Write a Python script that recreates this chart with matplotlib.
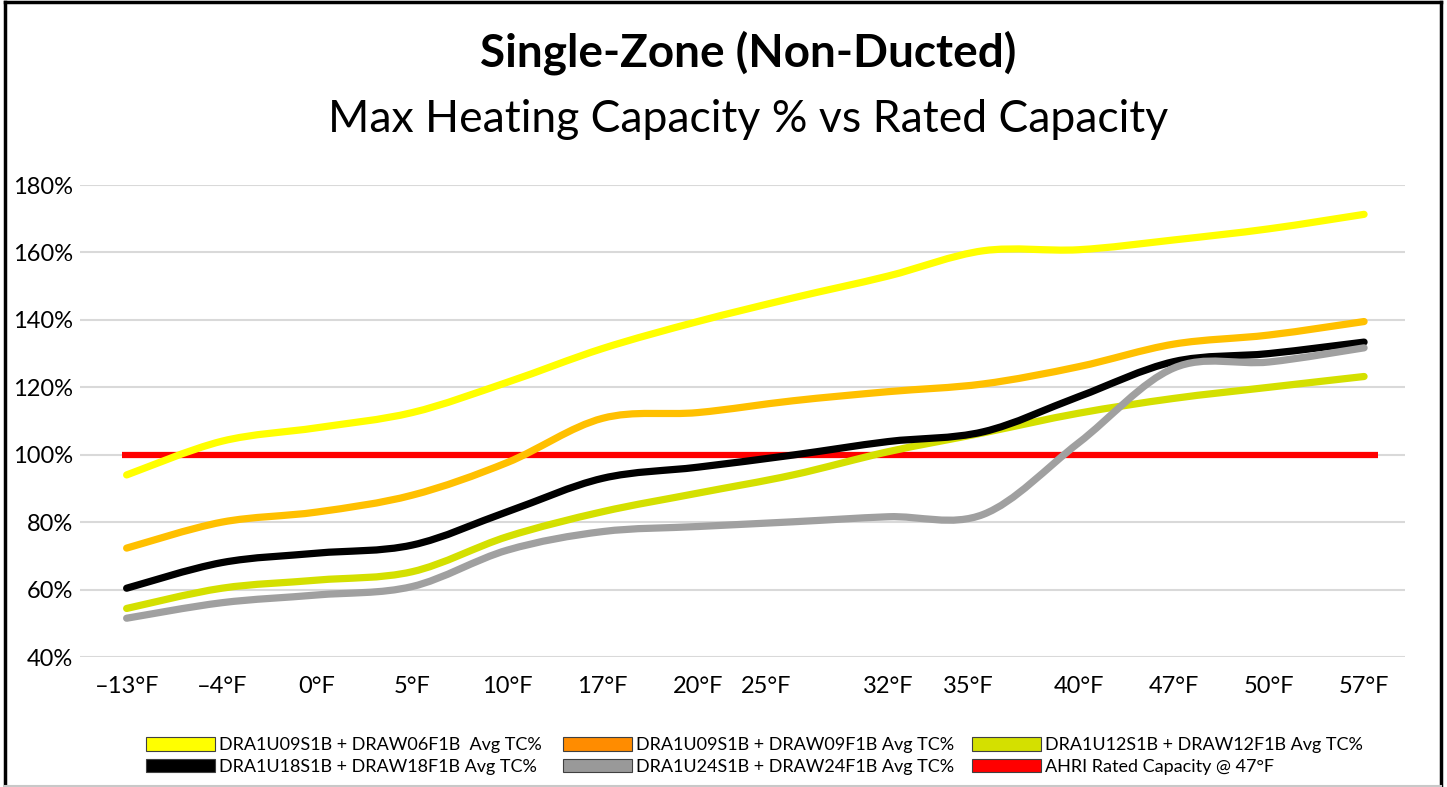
import matplotlib
matplotlib.use("Agg")
import matplotlib.pyplot as plt
from matplotlib.path import Path
from matplotlib.patches import PathPatch, Patch
from matplotlib.lines import Line2D
from matplotlib.transforms import ScaledTranslation

plt.rcParams['font.family'] = ['Lato', 'DejaVu Sans']

# outdoor temperature categories
temps = ["–13°F", "–4°F", "0°F", "5°F", "10°F", "17°F", "20°F", "25°F",
         "32°F", "35°F", "40°F", "47°F", "50°F", "57°F"]

# max heating capacity as % of rated capacity
u09_w06 = [94, 104, 108, 112.5, 121.5, 131.5, 139.5, 146.5, 153, 160.5, 160.8, 163.7, 167, 171.3]
u09_w09 = [72.3, 80, 83, 88, 97.7, 110.8, 112.5, 116, 118.7, 121, 126.1, 132.8, 135.5, 139.5]
u12_w12 = [54.4, 60.4, 62.8, 65.3, 75.7, 83.1, 88.6, 94, 100.9, 106.5, 112.3, 116.7, 120, 123.2]
u18_w18 = [60.4, 68, 70.8, 73.2, 83.1, 93, 96.3, 99.9, 103.9, 106.8, 117.2, 127.6, 130, 133.4]
u24_w24 = [51.5, 56.1, 58.4, 60.9, 71.7, 77.2, 78.7, 80.1, 81.6, 82.3, 103.5, 125.7, 127.5, 131.7]
ahri_rated = [100] * len(temps)

yticks = [40, 60, 80, 100, 120, 140, 160, 180]

series = [
    ("DRA1U09S1B + DRAW06F1B  Avg TC%", u09_w06, "#FFFF00", "#FFFF00"),
    ("DRA1U09S1B + DRAW09F1B Avg TC%", u09_w09, "#FFC000", "#FF8C00"),
    ("DRA1U12S1B + DRAW12F1B Avg TC%", u12_w12, "#D4E000", "#D4E000"),
    ("DRA1U18S1B + DRAW18F1B Avg TC%", u18_w18, "#000000", "#000000"),
    ("DRA1U24S1B + DRAW24F1B Avg TC%", u24_w24, "#A0A0A0", "#999999"),
]


def smooth_path(xs, ys):
    # Excel style smoothed line: cubic bezier through every point
    verts = [(xs[0], ys[0])]
    codes = [Path.MOVETO]
    n = len(xs)
    for i in range(n - 1):
        x0, y0 = (xs[i - 1], ys[i - 1]) if i > 0 else (xs[i], ys[i])
        x1, y1 = xs[i], ys[i]
        x2, y2 = xs[i + 1], ys[i + 1]
        x3, y3 = (xs[i + 2], ys[i + 2]) if i + 2 < n else (x2, y2)
        c1 = (x1 + (x2 - x0) / 6, y1 + (y2 - y0) / 6)
        c2 = (x2 - (x3 - x1) / 6, y2 - (y3 - y1) / 6)
        verts += [c1, c2, (x2, y2)]
        codes += [Path.CURVE4] * 3
    return Path(verts, codes)


fig = plt.figure(figsize=(14.47, 7.87), dpi=100)
ax = fig.add_axes([80 / 1447, 1 - 657 / 787, 1325 / 1447, 472 / 787])

x = list(range(len(temps)))
ax.plot([x[0] - 0.05, x[-1] + 0.15], [ahri_rated[0], ahri_rated[-1]],
        color="#FF0000", lw=4.5, solid_capstyle="butt", zorder=2)
for name, vals, col, _ in series:
    ax.add_patch(PathPatch(smooth_path(x, vals), fill=False, edgecolor=col,
                           lw=5.2, capstyle="round", joinstyle="round", zorder=3))

ax.set_xlim(-0.49, 13.43)
ax.set_ylim(40, 180)
ax.set_yticks(yticks)
ax.set_yticklabels([f"{v}%" for v in yticks], fontsize=17)
ax.set_xticks(x)
ax.set_xticklabels(temps, fontsize=17)
ax.tick_params(length=0, pad=5, axis="y")
ax.tick_params(length=0, pad=14, axis="x")
ax.grid(axis="y", color="#D9D9D9", lw=1.5)
ax.set_axisbelow(True)
for s in ax.spines.values():
    s.set_visible(False)

# hand-placed labels in the original sit a bit left
shifts = {"25°F": -27, "35°F": -15}
for lab in ax.get_xticklabels():
    dx = shifts.get(lab.get_text(), 0)
    if dx:
        lab.set_transform(lab.get_transform() + ScaledTranslation(dx / 100, 0, fig.dpi_scale_trans))

fig.text(0.517, 1 - 53 / 787, "Single-Zone (Non-Ducted)", ha="center", va="center",
         fontsize=33, fontweight="bold")
fig.text(0.517, 1 - 119 / 787, "Max Heating Capacity % vs Rated Capacity", ha="center",
         va="center", fontsize=32, fontweight="normal")

# legend: three columns of two rows
legend_items = [(s[0], s[3]) for s in series] + [("AHRI Rated Capacity @ 47°F", "#FF0000")]
columns = [[legend_items[0], legend_items[3]],
           [legend_items[1], legend_items[4]],
           [legend_items[2], legend_items[5]]]
col_x = [146, 563, 972]
for cx, items in zip(col_x, columns):
    handles = [Patch(facecolor=c, edgecolor="#404040", lw=0.8) for _, c in items]
    fig.legend(handles, [n for n, _ in items], loc="upper left",
               bbox_to_anchor=(cx / 1447, 1 - 737 / 787), frameon=False,
               fontsize=13, handlelength=3.8, handleheight=0.8, handletextpad=0.25,
               labelspacing=0.3, borderpad=0, borderaxespad=0)

# chart border
fig.add_artist(Line2D([5 / 1447, 5 / 1447], [0, 1 - 2 / 787], color="black", lw=2.5))
fig.add_artist(Line2D([5 / 1447, 1441 / 1447], [1 - 2 / 787, 1 - 2 / 787], color="black", lw=2.5))
fig.add_artist(Line2D([1441 / 1447, 1441 / 1447], [0, 1 - 2 / 787], color="black", lw=2.5))
fig.add_artist(Line2D([5 / 1447, 1441 / 1447], [1 / 787, 1 / 787], color="#C8C8C8", lw=1.5))

fig.savefig("out.png", dpi=100)
